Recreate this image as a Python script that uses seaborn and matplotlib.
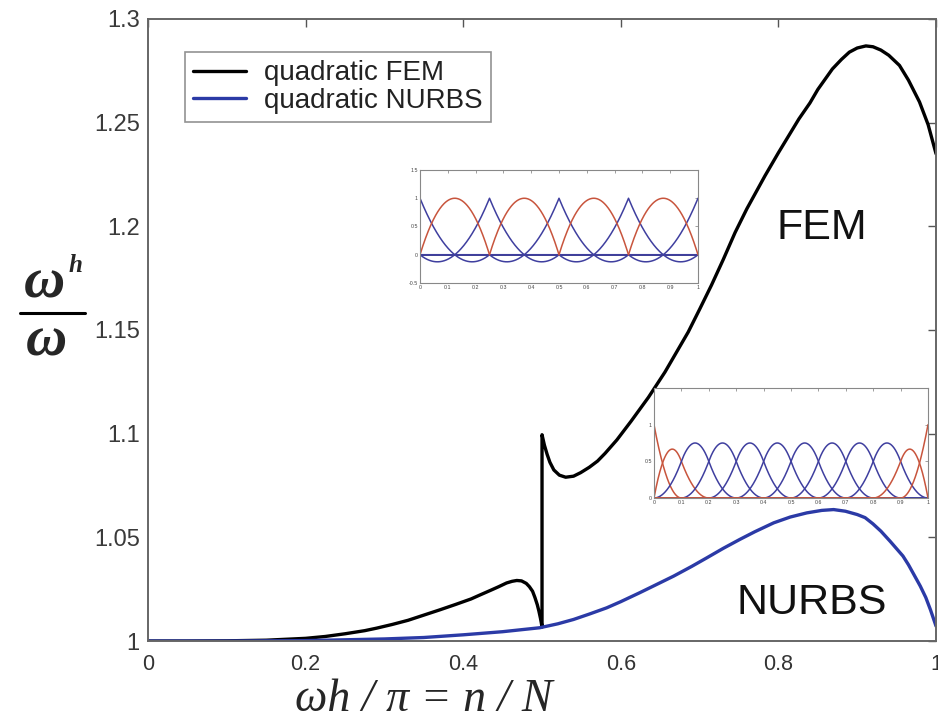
import numpy as np
import pandas as pd
import matplotlib
matplotlib.use("Agg")
import matplotlib.pyplot as plt
import seaborn as sns

# Normalized discrete frequency omega^h/omega versus n/N
fem_x = [0.00, 0.05, 0.10, 0.15, 0.20, 0.225, 0.25, 0.275, 0.29, 0.31, 0.33,
         0.35, 0.37, 0.39, 0.41, 0.42, 0.435, 0.445, 0.455, 0.462, 0.468,
         0.474, 0.480, 0.484, 0.488, 0.491, 0.494, 0.496, 0.498, 0.499, 0.500,
         0.500, 0.503, 0.5065, 0.510, 0.515, 0.522, 0.530, 0.540, 0.549,
         0.560, 0.5705, 0.580, 0.595, 0.613, 0.635, 0.656, 0.6855, 0.700,
         0.715, 0.730, 0.745, 0.760, 0.783, 0.800, 0.826, 0.840, 0.850,
         0.8685, 0.880, 0.890, 0.900, 0.911, 0.920, 0.930, 0.940, 0.9536,
         0.965, 0.979, 0.990, 1.000]
fem_y = [1.0000, 1.0000, 1.0001, 1.0004, 1.0013, 1.0022, 1.0035, 1.0050,
         1.0062, 1.0080, 1.0100, 1.0125, 1.0150, 1.0176, 1.0203, 1.0220,
         1.0245, 1.0262, 1.0280, 1.0288, 1.0292, 1.0290, 1.0278, 1.0262,
         1.0240, 1.0210, 1.0175, 1.0145, 1.0110, 1.0090, 1.0067,
         1.0995, 1.0945, 1.0900, 1.0862, 1.0825, 1.0800, 1.0790, 1.0795,
         1.0812, 1.0838, 1.0868, 1.0905, 1.0970, 1.1060, 1.1175, 1.1297,
         1.1490, 1.1600, 1.1716, 1.1840, 1.1970, 1.2085, 1.2244, 1.2355,
         1.2518, 1.2595, 1.2660, 1.2759, 1.2805, 1.2840, 1.2860, 1.2870,
         1.2866, 1.2850, 1.2825, 1.2776, 1.2705, 1.2600, 1.2490, 1.2350]

nurbs_x = [0.00, 0.10, 0.20, 0.30, 0.35, 0.40, 0.45, 0.497, 0.52, 0.54,
           0.56, 0.582, 0.60, 0.624, 0.645, 0.667, 0.69, 0.709, 0.73, 0.751,
           0.77, 0.794, 0.815, 0.836, 0.855, 0.870, 0.885, 0.900, 0.910,
           0.920, 0.930, 0.942, 0.950, 0.958, 0.965, 0.972, 0.980, 0.987,
           0.993, 1.000]
nurbs_y = [1.0000, 1.0000, 1.0002, 1.0010, 1.0017, 1.0030, 1.0045, 1.0064,
           1.0083, 1.0104, 1.0130, 1.0160, 1.0190, 1.0233, 1.0272, 1.0313,
           1.0360, 1.0401, 1.0447, 1.0490, 1.0527, 1.0570, 1.0598, 1.0618,
           1.0630, 1.0634, 1.0626, 1.0610, 1.0595, 1.0565, 1.0530, 1.0480,
           1.0445, 1.0410, 1.0368, 1.0320, 1.0265, 1.0210, 1.0150, 1.0072]

series_names = ["quadratic FEM", "quadratic NURBS"]
series_colors = ["#000000", "#2b3aa6"]

x_ticks = [0, 0.2, 0.4, 0.6, 0.8, 1.0]
x_tick_labels = ["0", "0.2", "0.4", "0.6", "0.8", "1"]
y_ticks = [1.0, 1.05, 1.1, 1.15, 1.2, 1.25, 1.3]
y_tick_labels = ["1", "1.05", "1.1", "1.15", "1.2", "1.25", "1.3"]

# Basis-function illustrations: element edges (FEM) and knot vector (NURBS)
fem_elements = [0.0, 0.25, 0.5, 0.75, 1.0]
nurbs_knots = [0, 0, 0, 0.1, 0.2, 0.3, 0.4, 0.5, 0.6, 0.7, 0.8, 0.9, 1, 1, 1]
inset_ticks = [0, 0.1, 0.2, 0.3, 0.4, 0.5, 0.6, 0.7, 0.8, 0.9, 1.0]
inset_tick_labels = ["0", "0.1", "0.2", "0.3", "0.4", "0.5", "0.6", "0.7",
                     "0.8", "0.9", "1"]

sns.set_theme(style="white")
plt.rcParams["font.family"] = ["Liberation Sans", "DejaVu Sans"]

df = pd.concat([
    pd.DataFrame({"x": fem_x, "y": fem_y, "series": series_names[0]}),
    pd.DataFrame({"x": nurbs_x, "y": nurbs_y, "series": series_names[1]}),
], ignore_index=True)

fig = plt.figure(figsize=(9.38, 7.24), dpi=100)
ax = fig.add_axes([0.1578, 0.1146, 0.8401, 0.8592])

sns.lineplot(data=df, x="x", y="y", hue="series", hue_order=series_names,
             palette=dict(zip(series_names, series_colors)), estimator=None,
             sort=False, units="series", linewidth=2.4, ax=ax)

ax.set_xlim(0, 1)
ax.set_ylim(1, 1.3)
ax.set_xticks(x_ticks)
ax.set_xticklabels(x_tick_labels, fontsize=15.5, color="#333333")
ax.set_yticks(y_ticks)
ax.set_yticklabels(y_tick_labels, fontsize=17, color="#3a3a3a")
ax.tick_params(direction="in", top=True, right=True, length=6, width=1,
               color="#555555")
ax.tick_params(axis="x", pad=9)
ax.tick_params(axis="y", pad=6)
for sp in ax.spines.values():
    sp.set_color("#666666")
    sp.set_linewidth(1.4)
ax.set_xlabel("")
ax.set_ylabel("")

leg = ax.legend(loc="upper left", bbox_to_anchor=(0.047, 0.947), fontsize=20,
                frameon=True, fancybox=False, edgecolor="#777777",
                borderpad=0.3, labelspacing=0.05, handlelength=1.9,
                handletextpad=0.65, borderaxespad=0)
leg.get_frame().set_linewidth(1.2)
for line in leg.get_lines():
    line.set_linewidth(2.4)
for t in leg.get_texts():
    t.set_color("#222222")

fig.text(822 / 938, 1 - 228 / 724, "FEM", fontsize=31, ha="center",
         va="center", color="#111111")
fig.text(812 / 938, 1 - 603 / 724, "NURBS", fontsize=31, ha="center",
         va="center", color="#111111")

# Axis labels
fig.text(424 / 938, 1 - 700 / 724, "ωh / π = n / N", fontsize=33,
         family="Liberation Serif", style="italic", ha="center", va="center")
fig.text(44 / 938, 1 - 284 / 724, "ω", fontsize=41, family="Liberation Serif",
         style="italic", weight="bold", ha="center", va="center")
fig.text(75 / 938, 1 - 265 / 724, "h", fontsize=18, family="Liberation Serif",
         style="italic", weight="bold", ha="center", va="center")
fig.add_artist(plt.Line2D([20 / 938, 85 / 938], [1 - 313 / 724, 1 - 313 / 724],
                          color="black", linewidth=2.2,
                          transform=fig.transFigure))
fig.text(46 / 938, 1 - 342 / 724, "ω", fontsize=41, family="Liberation Serif",
         style="italic", weight="bold", ha="center", va="center")


def bspline_basis(knots, p, x):
    knots = np.asarray(knots, dtype=float)
    n = len(knots) - 1
    N = np.zeros((n, len(x)))
    for i in range(n):
        if knots[i] < knots[i + 1]:
            last = knots[i + 1] == knots[-1]
            N[i] = np.where((x >= knots[i]) & ((x < knots[i + 1]) |
                            (last & (x <= knots[i + 1]))), 1.0, 0.0)
    for k in range(1, p + 1):
        Nn = np.zeros((n - k, len(x)))
        for i in range(n - k):
            a = knots[i + k] - knots[i]
            b = knots[i + k + 1] - knots[i + 1]
            t1 = (x - knots[i]) / a * N[i] if a > 0 else 0.0
            t2 = (knots[i + k + 1] - x) / b * N[i + 1] if b > 0 else 0.0
            Nn[i] = t1 + t2
        N = Nn
    return N


def style_inset(iax, ylim, yticks, ylabels):
    iax.set_facecolor("white")
    iax.set_xlim(0, 1)
    iax.set_ylim(*ylim)
    iax.set_xticks(inset_ticks)
    iax.set_xticklabels(inset_tick_labels, fontsize=3.8, color="#444444")
    iax.set_yticks(yticks)
    iax.set_yticklabels(ylabels, fontsize=3.8, color="#444444")
    iax.tick_params(direction="in", top=True, right=True, length=2,
                    width=0.5, color="#777777", pad=1.5)
    for sp in iax.spines.values():
        sp.set_color("#888888")
        sp.set_linewidth(0.8)


red = "#c8553d"
blue = "#3f3f9f"
xs = np.linspace(0, 1, 801)

# Quadratic Lagrange (FEM) basis functions
iax1 = fig.add_axes([420 / 938, 1 - 283 / 724, 278 / 938, 113 / 724])
edges = np.asarray(fem_elements)
vertex_curves = []
for j, node in enumerate(edges):
    yv = np.zeros_like(xs)
    if j > 0:
        a, b = edges[j - 1], edges[j]
        m = (xs >= a) & (xs <= b)
        t = (xs[m] - a) / (b - a)
        yv[m] = t * (2 * t - 1)
    if j < len(edges) - 1:
        a, b = edges[j], edges[j + 1]
        m = (xs >= a) & (xs <= b)
        t = (xs[m] - a) / (b - a)
        yv[m] = (1 - t) * (1 - 2 * t)
    vertex_curves.append(yv)
iax1.axhline(0, color="#444444", linewidth=1.3)
for yv in vertex_curves:
    sns.lineplot(x=xs, y=yv, color=blue, linewidth=1.1, ax=iax1)
for a, b in zip(edges[:-1], edges[1:]):
    m = (xs >= a) & (xs <= b)
    t = (xs[m] - a) / (b - a)
    sns.lineplot(x=xs[m], y=4 * t * (1 - t), color=red, linewidth=1.1,
                 ax=iax1)
style_inset(iax1, (-0.5, 1.5), [-0.5, 0, 0.5, 1, 1.5],
            ["-0.5", "0", "0.5", "1", "1.5"])

# Quadratic B-spline (NURBS) basis functions
iax2 = fig.add_axes([654 / 938, 1 - 498 / 724, 274 / 938, 110 / 724])
basis = bspline_basis(nurbs_knots, 2, xs)
nb = basis.shape[0]
for i in range(nb):
    c = red if i in (0, 1, nb - 2, nb - 1) else blue
    sns.lineplot(x=xs, y=basis[i], color=c, linewidth=1.1, ax=iax2)
style_inset(iax2, (0, 1.5), [0, 0.5, 1, 1.5], ["0", "0.5", "1", ""])

fig.savefig("out.png", dpi=100)
